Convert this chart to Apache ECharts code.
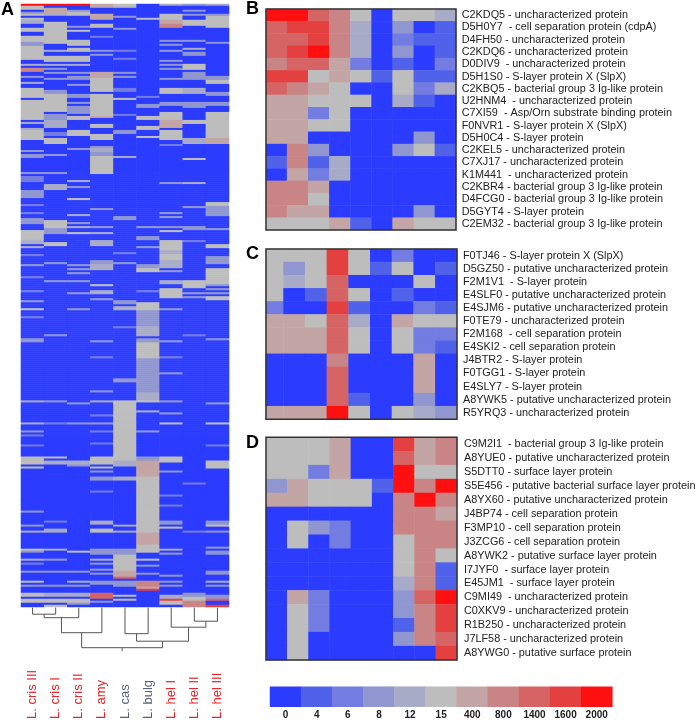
<!DOCTYPE html>
<html><head><meta charset="utf-8">
<style>html,body{margin:0;padding:0;background:#fff}#c{width:696px;height:721px}</style>
<script src="https://cdn.jsdelivr.net/npm/echarts@6/dist/echarts.min.js"></script>
</head><body><div id="c"></div>
<script>
const colourLevels = ['#2b3cff','#5062ea','#737ce0','#8f96d0','#a8abc8','#bdbdbd','#c4a5a5','#c98585','#d76464','#e54040','#ff1010'];
const colourTicks = ['0','4','6','8','12','15','400','800','1400','1600','2000'];
const strains = ['L. cris III','L. cris I','L. cris II','L. amy','L. cas','L. bulg','L. hel I','L. hel II','L. hel III'];
const strainColours = ['#e6262a','#e6262a','#e6262a','#e6262a','#59647c','#59647c','#e6262a','#e6262a','#e6262a'];

const panelBLabels = ['C2KDQ5 - uncharacterized protein','D5H0Y7  - cell separation protein (cdpA)','D4FH50 - uncharacterized protein','C2KDQ6 - uncharacterized protein','D0DIV9  - uncharacterized protein','D5H1S0 - S-layer protein X (SlpX)','C2KBQ5 - bacterial group 3 Ig-like protein','U2HNM4  - uncharacterized protein','C7XI59  - Asp/Orn substrate binding protein','F0NVR1 - S-layer protein X (SlpX)','D5H0C4 - S-layer protein','C2KEL5 - uncharacterized protein','C7XJ17 - uncharacterized protein','K1M441  - uncharacterized protein','C2KBR4 - bacterial group 3 Ig-like protein','D4FCG0 - bacterial group 3 Ig-like protein','D5GYT4 - S-layer protein','C2EM32 - bacterial group 3 Ig-like protein'];
const panelB = [
[10,10,8,7,5,0,5,5,4],[8,9,9,7,4,0,3,0,1],[8,8,9,7,4,0,2,1,1],[8,9,10,7,4,0,3,0,1],[7,8,8,6,2,0,1,0,2],
[9,9,5,6,5,1,5,1,1],[8,7,6,5,0,0,5,2,4],[6,6,5,5,5,0,4,1,0],[6,6,2,5,0,0,0,0,0],[6,6,5,5,0,0,0,0,0],
[6,6,0,0,0,0,0,3,0],[0,7,3,0,0,0,3,5,1],[1,7,1,4,0,0,0,0,0],[0,6,2,4,0,0,0,0,0],[7,7,6,0,0,0,0,0,0],
[7,7,5,0,0,0,0,0,0],[7,6,6,0,0,0,0,3,0],[5,5,5,6,1,0,6,5,5]];

const panelCLabels = ['F0TJ46 - S-layer protein X (SlpX)','D5GZ50 - putative uncharacterized protein','F2M1V1  - S-layer protein','E4SLF0 - putative uncharacterized protein','E4SJM6 - putative uncharacterized protein','F0TE79 - uncharacterized protein','F2M168  - cell separation protein','E4SKI2 - cell separation protein','J4BTR2 - S-layer protein','F0TGG1 - S-layer protein','E4SLY7 - S-layer protein','A8YWK5 - putative uncharacterized protein','R5YRQ3 - uncharacterized protein'];
const panelC = [
[5,5,5,9,5,0,2,0,0],[5,3,5,9,5,1,5,0,1],[5,4,5,8,0,0,0,5,0],[5,0,1,8,5,0,1,0,0],[2,0,0,9,1,0,0,2,1],
[6,6,5,8,4,0,6,5,5],[6,6,6,8,5,0,5,2,2],[6,6,6,8,5,0,5,2,1],[0,0,0,7,0,0,0,6,0],[0,0,0,8,0,0,0,6,0],
[0,0,0,8,0,0,0,6,0],[0,0,0,8,1,0,0,3,0],[6,6,6,10,5,0,5,4,3]];

const panelDLabels = ['C9M2I1  - bacterial group 3 Ig-like protein','A8YUE0 - putative uncharacterized protein','S5DTT0 - surface layer protein','S5E456 - putative bacterial surface layer protein','A8YX60 - putative uncharacterized protein','J4BP74 - cell separation protein','F3MP10 - cell separation protein','J3ZCG6 - cell separation protein','A8YWK2 - putative surface layer protein','I7JYF0  - surface layer protein','E45JM1  - surface layer protein','C9MI49  - uncharacterized protein','C0XKV9 - uncharacterized protein','R1B250 - uncharacterized protein','J7LF58 - uncharacterized protein','A8YWG0 - putative surface protein'];
const panelD = [
[5,5,5,6,0,0,9,6,7],[5,5,5,6,0,0,8,6,7],[5,5,2,6,0,0,10,5,5],[3,6,5,5,5,1,10,7,10],[6,6,5,5,5,0,7,10,7],
[0,0,0,0,0,0,7,7,6],[0,5,3,2,0,0,7,7,7],[0,5,0,2,0,0,5,7,7],[0,0,0,0,0,0,5,7,5],[0,0,0,0,0,0,5,7,1],
[0,0,0,0,0,0,4,7,1],[0,6,2,0,0,0,3,8,10],[0,5,2,0,0,0,3,7,9],[0,5,2,0,0,0,1,7,9],[0,5,0,0,0,0,3,7,8],[0,5,0,0,0,0,0,0,9]];

// Panel A: for each strain, runs of [first row, run length, colour level]; other rows are level 0.
const panelARowCount = 301;
const crisIII = [[0,1,10],[1,2,5],[4,1,3],[5,1,5],[7,1,5],[8,2,4],[12,2,5],[16,3,5],[19,2,3],[21,7,5],[30,1,4],[32,2,7],[36,1,3],[39,1,4],[42,5,5],[48,10,5],[59,1,4],[62,1,4],[63,5,5],[73,1,3],[75,1,3],[76,1,3],[84,1,3],[86,3,2],[93,4,3],[100,1,2],[104,1,2],[107,1,3],[108,2,3],[113,5,5],[118,2,4],[121,1,4],[125,1,2],[130,1,3],[136,1,2],[143,1,2],[148,1,3],[152,1,5],[156,1,2],[167,2,3],[198,1,4],[209,1,4],[213,1,3],[215,1,2],[220,1,2],[226,4,5],[231,1,5],[253,1,3],[260,1,3],[263,1,4],[272,1,5],[273,1,3],[277,1,4],[279,1,2],[283,1,3],[288,1,5],[290,1,3],[294,2,5],[297,2,5]];
const crisI = [[0,1,10],[2,3,6],[5,1,4],[9,11,5],[23,1,4],[26,3,5],[30,1,4],[32,1,3],[34,1,3],[37,1,3],[43,2,3],[45,9,5],[55,3,3],[58,4,4],[64,2,2],[67,3,5],[75,1,3],[84,1,3],[90,3,4],[108,4,5],[112,3,3],[119,2,5],[129,1,3],[138,1,3],[165,1,3],[198,1,3],[209,1,2],[226,1,5],[228,2,4],[258,1,2],[262,2,4],[272,1,4],[277,1,3],[283,1,3],[290,1,3],[294,2,4],[297,2,5],[300,1,5]];
const crisII = [[0,1,10],[3,1,3],[4,2,5],[11,1,3],[13,1,5],[18,3,5],[22,2,5],[26,3,5],[30,1,4],[34,1,3],[36,2,3],[40,1,3],[45,2,3],[49,1,3],[51,4,3],[56,2,5],[63,3,5],[72,1,3],[88,1,4],[91,1,3],[97,1,5],[105,1,4],[109,1,3],[111,1,4],[114,1,5],[130,1,3],[132,1,3],[134,1,3],[138,1,3],[144,1,3],[152,1,3],[199,1,3],[209,1,3],[228,2,4],[230,1,3],[273,1,5],[283,1,3],[288,1,4],[290,1,3],[294,2,4],[297,2,5],[299,1,3]];
const amy = [[0,2,6],[5,3,6],[10,2,5],[16,1,2],[23,1,3],[25,1,3],[34,3,6],[37,7,5],[45,12,5],[56,1,6],[60,2,5],[65,3,5],[71,1,3],[72,2,4],[74,2,3],[76,9,5],[102,1,3],[111,1,3],[114,1,4],[118,3,4],[128,2,3],[130,3,4],[140,1,5],[143,2,4],[147,1,3],[168,1,3],[176,1,2],[193,1,3],[198,1,4],[205,1,2],[209,1,3],[213,1,2],[219,1,2],[226,4,5],[231,1,5],[233,1,3],[236,2,3],[243,1,2],[258,2,4],[262,2,5],[272,3,3],[277,1,4],[279,1,3],[282,1,3],[284,1,3],[288,2,3],[294,3,8],[298,1,3]];
const cas = [[0,2,5],[6,1,3],[12,1,3],[23,1,2],[27,1,2],[34,1,3],[36,1,3],[42,2,2],[47,1,5],[55,1,2],[63,2,3],[76,1,4],[106,2,3],[124,1,2],[129,1,3],[148,2,3],[151,2,4],[161,1,2],[187,2,3],[198,30,5],[228,3,4],[236,2,4],[260,1,4],[263,1,4],[272,3,3],[275,8,5],[283,3,6],[286,1,8],[288,2,3],[290,1,3],[295,1,5],[297,1,5]];
const bulg = [[7,1,5],[46,1,2],[50,2,3],[56,2,5],[61,2,5],[66,1,5],[111,1,3],[116,2,3],[121,1,3],[130,2,3],[132,2,5],[143,1,2],[149,4,5],[153,3,3],[156,5,3],[161,5,4],[167,2,3],[169,8,5],[177,10,3],[187,7,3],[194,4,4],[198,1,5],[203,1,4],[213,1,3],[226,2,3],[228,8,6],[236,28,5],[264,6,6],[270,4,5],[277,1,5],[280,1,3],[284,1,3],[288,3,7],[291,2,6],[292,1,9]];
const helI = [[0,1,4],[5,3,5],[8,2,6],[10,2,7],[18,1,3],[20,1,3],[23,1,3],[28,1,3],[30,1,3],[32,1,3],[37,1,3],[42,3,5],[49,2,3],[54,4,5],[58,4,6],[63,5,5],[70,1,2],[89,1,3],[104,1,3],[106,1,3],[111,1,3],[113,1,5],[118,5,5],[123,2,4],[125,3,5],[128,4,4],[133,1,3],[138,2,4],[142,5,5],[152,1,3],[168,1,3],[176,1,2],[184,1,3],[198,1,3],[204,1,3],[209,1,5],[226,3,5],[233,1,3],[245,1,2],[250,1,2],[258,2,3],[261,1,5],[272,1,4],[274,1,3],[285,1,3],[288,1,3],[290,1,3],[295,2,4],[297,1,9],[298,2,5]];
const helII = [[0,1,3],[3,1,3],[5,1,3],[8,3,5],[18,1,3],[22,1,4],[24,2,3],[30,3,5],[34,4,3],[42,3,4],[49,3,3],[58,2,5],[67,3,4],[77,1,5],[89,1,4],[101,1,3],[111,2,3],[118,1,2],[138,4,5],[144,1,3],[146,1,3],[165,1,2],[239,1,2],[263,1,2],[294,2,3],[296,2,5],[298,3,7]];
const helIII = [[0,1,4],[5,1,3],[6,6,5],[19,1,3],[36,2,3],[38,2,5],[44,2,3],[49,2,3],[54,13,5],[67,3,6],[99,2,5],[101,5,3],[112,1,3],[120,2,5],[126,2,3],[128,2,3],[132,8,5],[140,1,3],[142,1,3],[144,1,3],[146,2,5],[167,1,3],[199,1,3],[209,1,5],[220,1,2],[228,4,5],[258,2,3],[260,1,5],[263,1,3],[271,1,3],[273,2,3],[283,2,3],[288,1,4],[290,1,3],[295,2,3],[297,1,8],[300,1,9]];
const panelARuns = [crisIII,crisI,crisII,amy,cas,bulg,helI,helII,helIII];

// Dendrogram: [node, node, merge height]; nodes 0-8 are the strains, later nodes are earlier merges.
const dendroMerges = [[0,1,6.5],[9,2,10],[10,3,25],[4,5,26],[7,8,13.5],[6,13,19.5],[12,14,33.5],[11,15,40]];
const dendroRootStem = 43.5;

const range = n => Array.from({length:n},(_,i)=>i);
function matrixCells(m){const out=[];m.forEach((r,y)=>r.forEach((v,x)=>out.push([x,y,v])));return out;}
function panelACells(){
  const out=[];
  panelARuns.forEach((runs,x)=>{
    const col=new Array(panelARowCount).fill(0);
    runs.forEach(([s,l,v])=>{for(let i=s;i<s+l&&i<panelARowCount;i++)col[i]=v;});
    col.forEach((v,y)=>out.push([x,y,v]));
  });
  return out;
}
function dendroSegments(){
  const pos=range(9), ht=new Array(9).fill(0), out=[];
  dendroMerges.forEach(([a,b,h])=>{
    out.push([pos[a],ht[a],pos[b],ht[b],h]);
    pos.push((pos[a]+pos[b])/2); ht.push(h);
  });
  const rootPos=pos[pos.length-1], rootH=ht[ht.length-1];
  out.push([rootPos,rootH,rootPos,dendroRootStem,dendroRootStem]);
  return out;
}

const hiddenCat = (gridIndex,data,extra)=>Object.assign({type:'category',gridIndex,data,axisLine:{show:false},axisTick:{show:false},axisLabel:{show:false},splitLine:{show:false}},extra||{});
const proteinAxis = (gridIndex,labels,margin)=>({type:'category',gridIndex,data:labels,inverse:true,position:'right',axisLine:{show:false},axisTick:{show:false},splitLine:{show:false},
  axisLabel:{show:true,interval:0,margin,fontFamily:'Liberation Sans',fontSize:10.85,color:'#222'}});
const heat = (xAxisIndex,yAxisIndex,data)=>({type:'heatmap',xAxisIndex,yAxisIndex,data,progressive:0,emphasis:{disabled:true},itemStyle:{borderWidth:0}});

const frame=(x,y,width,height)=>({type:'rect',z:100,shape:{x,y,width,height},style:{fill:'none',stroke:'#333',lineWidth:1.5}});
const letter=(x,y,text)=>({type:'text',z:100,x,y,style:{text,fontFamily:'Liberation Sans',fontWeight:'bold',fontSize:18,fill:'#000'}});
const gridBox=(left,top,width,height)=>({left,top,width,height,outerBoundsMode:'none',containLabel:false});

const option={
  animation:false,
  backgroundColor:'#fff',
  grid:[
    gridBox(21,4,208,603),
    gridBox(266,9,190,221),
    gridBox(261.8,249,195.2,170.3),
    gridBox(266,437.3,191,222.7),
    gridBox(270,686.7,342.3,20),
    gridBox(21,607.7,208,45)
  ],
  xAxis:[
    hiddenCat(0,strains,{axisLabel:{show:true,interval:0,rotate:90,align:'left',verticalAlign:'middle',margin:112,fontFamily:'Liberation Sans',fontSize:13,
      color:(v,i)=>strainColours[i]}}),
    hiddenCat(1,strains),hiddenCat(2,strains),hiddenCat(3,strains),
    hiddenCat(4,colourTicks,{axisLabel:{show:true,interval:0,margin:4,fontFamily:'Liberation Sans',fontWeight:'bold',fontSize:10,color:'#222'}}),
    {type:'value',gridIndex:5,min:-0.5,max:8.5,show:false}
  ],
  yAxis:[
    hiddenCat(0,range(panelARowCount),{inverse:true}),
    proteinAxis(1,panelBLabels,5.7),
    proteinAxis(2,panelCLabels,6),
    proteinAxis(3,panelDLabels,7),
    hiddenCat(4,['scale']),
    {type:'value',gridIndex:5,min:0,max:45,inverse:true,show:false}
  ],
  visualMap:{type:'continuous',show:false,min:0,max:10,dimension:2,seriesIndex:[0,1,2,3,4],inRange:{color:colourLevels}},
  series:[
    heat(0,0,panelACells()),
    heat(1,1,matrixCells(panelB)),
    heat(2,2,matrixCells(panelC)),
    heat(3,3,matrixCells(panelD)),
    heat(4,4,colourTicks.map((t,i)=>[i,0,i])),
    {type:'custom',xAxisIndex:5,yAxisIndex:5,data:dendroSegments(),clip:false,silent:true,
     encode:{x:[0,2],y:[1,3,4]},
     renderItem:(p,api)=>{
       const a=api.coord([api.value(0),api.value(1)]),b=api.coord([api.value(0),api.value(4)]),
             c=api.coord([api.value(2),api.value(4)]),d=api.coord([api.value(2),api.value(3)]);
       return {type:'polyline',shape:{points:[a,b,c,d]},style:{fill:'none',stroke:'#555',lineWidth:1}};
     }}
  ],
  graphic:[
    {type:'rect',z:90,shape:{x:255,y:245,width:10.5,height:178},style:{fill:'#fff'}},
    frame(266,9,190,221),frame(266,249,191,170.3),frame(266,437.3,191,222.7),
    letter(1,1,'A'),letter(246,0,'B'),letter(246,245,'C'),letter(246,434,'D')
  ]
};
echarts.init(document.getElementById('c'),null,{renderer:'canvas'}).setOption(option);
</script></body></html>
